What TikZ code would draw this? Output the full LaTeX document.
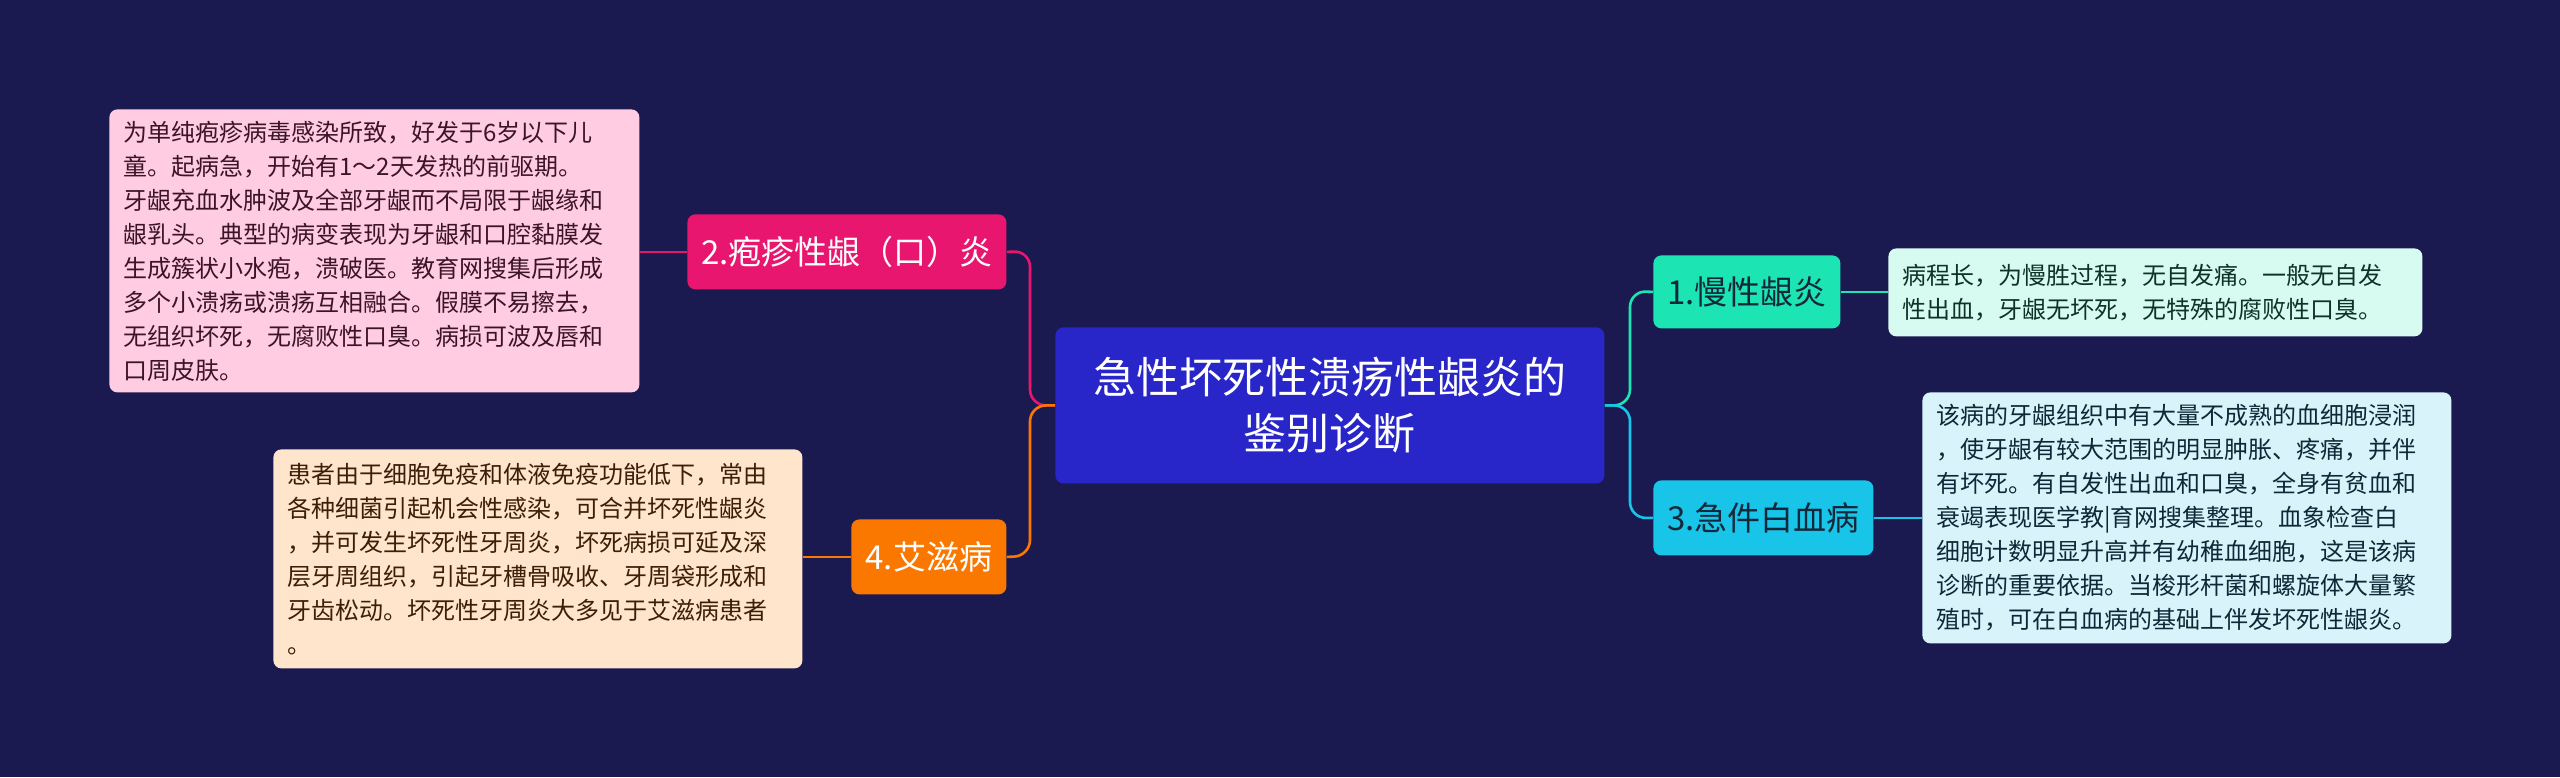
\documentclass[tikz,border=0pt]{standalone}
\usepackage{fontspec}
\setmainfont{Noto Sans CJK SC}
\definecolor{bg}{RGB}{27,26,80}
\definecolor{cen}{RGB}{40,38,200}
\definecolor{cpink}{RGB}{232,22,110}
\definecolor{corange}{RGB}{250,120,0}
\definecolor{cteal}{RGB}{28,228,178}
\definecolor{ccyan}{RGB}{24,196,232}
\definecolor{fpink}{RGB}{255,204,226}
\definecolor{fpeach}{RGB}{255,229,204}
\definecolor{fteal}{RGB}{215,251,240}
\definecolor{fcyan}{RGB}{216,244,250}
\definecolor{tpink}{RGB}{60,20,40}
\definecolor{tpeach}{RGB}{60,30,10}
\definecolor{tteal}{RGB}{15,50,40}
\definecolor{tcyan}{RGB}{15,40,55}
\definecolor{tdark}{RGB}{20,40,60}
\begin{document}
\begin{tikzpicture}[x=0.5pt,y=-0.5pt,
  box/.style={rounded corners=4pt,inner sep=0pt,anchor=north west},
  desc/.style={box,align=left,inner xsep=7pt,font=\fontsize{12pt}{17pt}\selectfont,text=#1},
  br/.style={box,text=white,font=\fontsize{16.5pt}{19pt}\selectfont},
  ln/.style={line width=1.3pt,rounded corners=8pt}]
\fill[bg] (0,0) rectangle (2560,777);
\useasboundingbox (0,0) rectangle (2560,777);
% central
\node[box,fill=cen,minimum width=274.5pt,minimum height=78pt,text=white,align=center,font=\fontsize{21.5pt}{28pt}\selectfont] (c) at (1055,327) {急性坏死性溃疡性龈炎的\\鉴别诊断};
% branches
\node[br,fill=cpink,minimum width=159.5pt,minimum height=37.5pt] (b2) at (687,214) {2.疱疹性龈（口）炎};
\node[br,fill=corange,minimum width=77.5pt,minimum height=37.5pt] (b4) at (851,519) {4.艾滋病};
\node[br,fill=cteal,minimum width=93.5pt,minimum height=36.5pt,text=tdark] (b1) at (1653,255) {1.慢性龈炎};
\node[br,fill=ccyan,minimum width=110pt,minimum height=37.5pt,text=tdark] (b3) at (1653,480) {3.急件白血病};
% descriptions
\node[desc=tpink,fill=fpink,text width=251pt,minimum height=141.5pt] (d2) at (109,109) {为单纯疱疹病毒感染所致，好发于6岁以下儿\\童。起病急，开始有1～2天发热的前驱期。\\牙龈充血水肿波及全部牙龈而不局限于龈缘和\\龈乳头。典型的病变表现为牙龈和口腔黏膜发\\生成簇状小水疱，溃破医。教育网搜集后形成\\多个小溃疡或溃疡互相融合。假膜不易擦去，\\无组织坏死，无腐败性口臭。病损可波及唇和\\口周皮肤。};
\node[desc=tpeach,fill=fpeach,text width=250.5pt,minimum height=109.5pt] (d4) at (273,449) {患者由于细胞免疫和体液免疫功能低下，常由\\各种细菌引起机会性感染，可合并坏死性龈炎\\，并可发生坏死性牙周炎，坏死病损可延及深\\层牙周组织，引起牙槽骨吸收、牙周袋形成和\\牙齿松动。坏死性牙周炎大多见于艾滋病患者\\。};
\node[desc=tteal,fill=fteal,text width=253pt,minimum height=44pt] (d1) at (1888,248) {病程长，为慢胜过程，无自发痛。一般无自发\\性出血，牙龈无坏死，无特殊的腐败性口臭。};
\node[desc=tcyan,fill=fcyan,text width=250.5pt,minimum height=125.5pt] (d3) at (1922,392) {该病的牙龈组织中有大量不成熟的血细胞浸润\\，使牙龈有较大范围的明显肿胀、疼痛，并伴\\有坏死。有自发性出血和口臭，全身有贫血和\\衰竭表现医学教|育网搜集整理。血象检查白\\细胞计数明显升高并有幼稚血细胞，这是该病\\诊断的重要依据。当梭形杆菌和螺旋体大量繁\\殖时，可在白血病的基础上伴发坏死性龈炎。};
% connectors
\draw[ln,draw=cpink] (c.west) -| (1030,251) -- (b2.east);
\draw[ln,draw=corange] (c.west) -| (1030,556) -- (b4.east);
\draw[ln,draw=cteal] (c.east) -| (1630,291) -- (b1.west);
\draw[ln,draw=ccyan] (c.east) -| (1630,518) -- (b3.west);
\draw[ln,draw=cpink] (b2.west) -- (d2.east |- b2.west);
\draw[ln,draw=corange] (b4.west) -- (d4.east |- b4.west);
\draw[ln,draw=cteal] (b1.east) -- (d1.west |- b1.east);
\draw[ln,draw=ccyan] (b3.east) -- (d3.west |- b3.east);
\end{tikzpicture}
\end{document}
